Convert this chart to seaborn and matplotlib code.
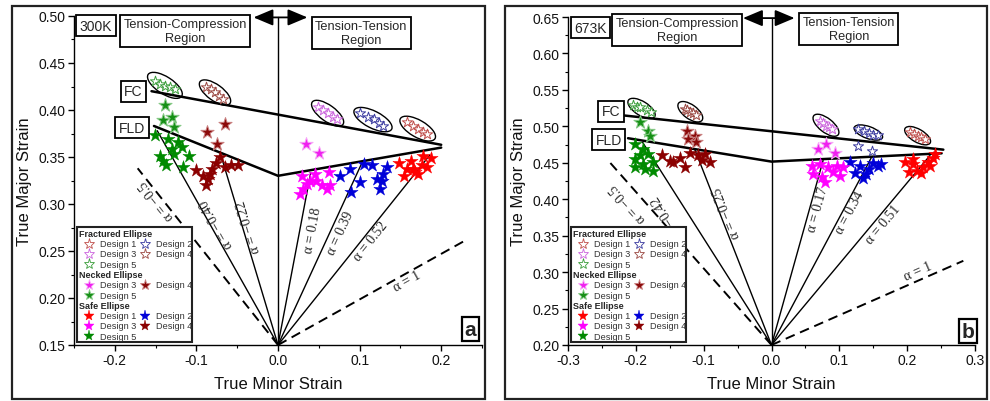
import matplotlib
matplotlib.use("Agg")
import numpy as np
import pandas as pd
import matplotlib.pyplot as plt
import matplotlib.transforms as mtransforms
from matplotlib.patches import Ellipse, Rectangle
from matplotlib.ticker import MultipleLocator, FormatStrFormatter
import seaborn as sns

# ---------------- 300 K : measured limit strains (minor, major) ----------------
frac_a_d1 = [(0.158, 0.387), (0.165, 0.383), (0.172, 0.380), (0.178, 0.377), (0.183, 0.374)]
frac_a_d2 = [(0.101, 0.397), (0.110, 0.393), (0.118, 0.390), (0.124, 0.386), (0.129, 0.383)]
frac_a_d3 = [(0.049, 0.403), (0.055, 0.400), (0.061, 0.397), (0.067, 0.393), (0.072, 0.390)]
frac_a_d4 = [(-0.088, 0.425), (-0.082, 0.422), (-0.077, 0.419), (-0.072, 0.415), (-0.067, 0.412)]
frac_a_d5 = [(-0.151, 0.431), (-0.145, 0.428), (-0.139, 0.426), (-0.132, 0.424), (-0.126, 0.422)]

neck_a_d3 = [(0.034, 0.364), (0.050, 0.354)]
neck_a_d4 = [(-0.0875, 0.377), (-0.065, 0.385), (-0.075, 0.364)]
neck_a_d5 = [(-0.138, 0.405), (-0.130, 0.393), (-0.141, 0.389), (-0.128, 0.382)]

safe_a_d1 = [(0.148, 0.344), (0.154, 0.330), (0.163, 0.346), (0.166, 0.337), (0.172, 0.332),
             (0.176, 0.342), (0.182, 0.339), (0.178, 0.351), (0.187, 0.349), (0.158, 0.337),
             (0.168, 0.334)]
safe_a_d2 = [(0.076, 0.330), (0.088, 0.337), (0.089, 0.313), (0.101, 0.323), (0.105, 0.343),
             (0.115, 0.341), (0.121, 0.327), (0.129, 0.332), (0.133, 0.339), (0.125, 0.316),
             (0.127, 0.325)]
safe_a_d3 = [(0.029, 0.330), (0.039, 0.325), (0.031, 0.316), (0.027, 0.311), (0.047, 0.325),
             (0.054, 0.320), (0.060, 0.316), (0.064, 0.320), (0.062, 0.334), (0.045, 0.332),
             (0.035, 0.321)]
safe_a_d4 = [(-0.100, 0.336), (-0.092, 0.330), (-0.086, 0.327), (-0.088, 0.320), (-0.081, 0.337),
             (-0.076, 0.344), (-0.071, 0.350), (-0.065, 0.339), (-0.057, 0.341), (-0.049, 0.342),
             (-0.083, 0.332)]
safe_a_d5 = [(-0.151, 0.373), (-0.135, 0.369), (-0.122, 0.366), (-0.130, 0.359), (-0.118, 0.361),
             (-0.145, 0.351), (-0.128, 0.353), (-0.109, 0.351), (-0.137, 0.341), (-0.116, 0.339),
             (-0.141, 0.346)]

fc_a_x = [-0.155, 0.200]
fc_a_y = [0.420, 0.363]
fld_a_x = [-0.152, 0.000, 0.200]
fld_a_y = [0.383, 0.330, 0.360]
path_a_x = [-0.148, -0.070, 0.040, 0.103, 0.186]
path_a_y = [0.378, 0.352, 0.333, 0.344, 0.352]
path_a_alpha = ["−0.40", "−0.22", "0.18", "0.39", "0.52"]
bound_a_x = [-0.172, 0.229]
bound_a_y = [0.338, 0.261]
bound_a_alpha = ["−0.5", "1"]

# ---------------- 673 K ----------------
frac_b_d1 = [(0.204, 0.492), (0.210, 0.490), (0.216, 0.487), (0.221, 0.485), (0.226, 0.482)]
frac_b_d2 = [(0.128, 0.4965), (0.136, 0.494), (0.143, 0.491), (0.150, 0.4885), (0.157, 0.4875)]
frac_b_d3 = [(0.071, 0.507), (0.076, 0.504), (0.081, 0.501), (0.085, 0.499), (0.0885, 0.4965)]
frac_b_d4 = [(-0.128, 0.524), (-0.124, 0.522), (-0.1205, 0.520), (-0.115, 0.518), (-0.111, 0.516)]
frac_b_d5 = [(-0.204, 0.5286), (-0.199, 0.527), (-0.194, 0.526), (-0.184, 0.522), (-0.177, 0.519)]
frac_b_d2_loose = [(0.128, 0.4736), (0.1475, 0.4667)]

neck_b_d3 = [(0.069, 0.469), (0.081, 0.476), (0.093, 0.464)]
neck_b_d4 = [(-0.125, 0.494), (-0.113, 0.487), (-0.123, 0.483), (-0.111, 0.478)]
neck_b_d5 = [(-0.194, 0.506), (-0.182, 0.494), (-0.1795, 0.487)]

safe_b_d1 = [(0.197, 0.451), (0.208, 0.448), (0.202, 0.437), (0.214, 0.439), (0.224, 0.444),
             (0.231, 0.451), (0.2385, 0.456), (0.221, 0.436), (0.234, 0.445), (0.209, 0.455),
             (0.241, 0.462)]
safe_b_d2 = [(0.116, 0.451), (0.130, 0.446), (0.123, 0.436), (0.135, 0.429), (0.143, 0.441),
             (0.150, 0.450), (0.157, 0.446), (0.162, 0.448), (0.140, 0.435)]
safe_b_d3 = [(0.059, 0.446), (0.071, 0.448), (0.084, 0.444), (0.096, 0.446), (0.0615, 0.435),
             (0.074, 0.430), (0.091, 0.437), (0.101, 0.432), (0.079, 0.424), (0.106, 0.444)]
safe_b_d4 = [(-0.162, 0.460), (-0.150, 0.453), (-0.145, 0.451), (-0.135, 0.456), (-0.128, 0.444),
             (-0.1205, 0.464), (-0.108, 0.460), (-0.103, 0.454), (-0.098, 0.462), (-0.091, 0.451)]
safe_b_d5 = [(-0.2016, 0.476), (-0.189, 0.469), (-0.194, 0.460), (-0.182, 0.462), (-0.2016, 0.455),
             (-0.189, 0.448), (-0.1746, 0.451), (-0.2016, 0.444), (-0.1746, 0.439), (-0.187, 0.4415)]

fc_b_x = [-0.2164, 0.2533]
fc_b_y = [0.5148, 0.468]
fld_b_x = [-0.2115, 0.000, 0.2508]
fld_b_y = [0.4837, 0.4516, 0.463]
path_b_x = [-0.190, -0.113, 0.076, 0.1475, 0.2336]
path_b_y = [0.478, 0.468, 0.453, 0.4576, 0.460]
path_b_alpha = ["−0.42", "−0.25", "0.17", "0.34", "0.51"]
bound_b_x = [-0.2385, 0.2828]
bound_b_y = [0.4507, 0.3155]
bound_b_alpha = ["−0.5", "1"]

# ---------------- styling ----------------
sns.set_theme(style="ticks")
plt.rcParams["font.family"] = ["Liberation Sans", "DejaVu Sans"]
plt.rcParams["axes.unicode_minus"] = False
SERIF = ["Liberation Serif", "DejaVu Serif"]

SAFE = {1: "#ff0000", 2: "#0000d8", 3: "#ff00ff", 4: "#8b0000", 5: "#008a00"}
NECK_FACE = {3: "#f020f0", 4: "#8b0a0a", 5: "#169016"}
NECK_EDGE = {3: "#f7a6f7", 4: "#c98080", 5: "#86c986"}
FRAC_EDGE = {1: "#c0504d", 2: "#3c3ca0", 3: "#cc66dd", 4: "#9c4a44", 5: "#3c9e3c"}

W, H = 990, 402
fig = plt.figure(figsize=(W / 100, H / 100), dpi=100)
fig.patch.set_facecolor("white")

ax_a = fig.add_axes([74 / W, 1 - 346 / H, 408 / W, 329 / H])
ax_b = fig.add_axes([568 / W, 1 - 346 / H, 407 / W, 328 / H])


def to_frame(groups):
    rows = []
    for state, design, pts in groups:
        for x, y in pts:
            rows.append({"minor": x, "major": y, "state": state, "design": design})
    return pd.DataFrame(rows)


def draw_stars(ax, df):
    for (state, design), sub in df.groupby(["state", "design"], sort=False):
        if state == "Fractured":
            sns.scatterplot(data=sub, x="minor", y="major", ax=ax, marker="*", s=60,
                            color="white", edgecolor=FRAC_EDGE[design], linewidth=0.7,
                            legend=False, zorder=5)
        elif state == "Necked":
            sns.scatterplot(data=sub, x="minor", y="major", ax=ax, marker="*", s=100,
                            color=NECK_FACE[design], edgecolor=NECK_EDGE[design], linewidth=0.7,
                            legend=False, zorder=5)
        else:
            sns.scatterplot(data=sub, x="minor", y="major", ax=ax, marker="*", s=100,
                            color=SAFE[design], edgecolor=SAFE[design], linewidth=0.3,
                            legend=False, zorder=5)


def ring(ax, pts, w_px, h_px, ang):
    cx = float(np.mean([p[0] for p in pts]))
    cy = float(np.mean([p[1] for p in pts]))
    tr = fig.dpi_scale_trans + mtransforms.ScaledTranslation(cx, cy, ax.transData)
    ax.add_patch(Ellipse((0, 0), w_px / 100, h_px / 100, angle=ang, transform=tr,
                         fill=False, ec="black", lw=1.0, zorder=4))


def along_label(ax, x0, y0, x1, y1, lx, ly, text):
    ang = np.degrees(np.arctan2(y1 - y0, x1 - x0))
    rot = ax.transData.transform_angles(np.array([ang]), np.array([[lx, ly]]))[0]
    ax.text(lx, ly, text, rotation=rot, rotation_mode="anchor", ha="center", va="center",
            family=SERIF, fontsize=10, zorder=6)


def boxed(ax, x, y, text, size=10, weight="normal", pad=0.2, lw=1.3):
    ax.text(x, y, text, ha="center", va="center", fontsize=size, fontweight=weight,
            linespacing=1.2, zorder=7,
            bbox=dict(boxstyle=f"square,pad={pad}", fc="white", ec="black", lw=lw))


KEY_ROWS = [
    ("Fractured Ellipse", []),
    (None, [("Fractured", 1), ("Fractured", 2)]),
    (None, [("Fractured", 3), ("Fractured", 4)]),
    (None, [("Fractured", 5)]),
    ("Necked Ellipse", []),
    (None, [("Necked", 3), ("Necked", 4)]),
    (None, [("Necked", 5)]),
    ("Safe Ellipse", []),
    (None, [("Safe", 1), ("Safe", 2)]),
    (None, [("Safe", 3), ("Safe", 4)]),
    (None, [("Safe", 5)]),
]


def key(ax):
    tr = fig.dpi_scale_trans + mtransforms.ScaledTranslation(0, 0, ax.transAxes)
    ax.add_patch(Rectangle((0.03, 0.03), 1.15, 1.15, transform=tr, fc="white", ec="#222222",
                           lw=1.5, zorder=8, clip_on=False))
    for i, (title, items) in enumerate(KEY_ROWS):
        yy = (111.7 - 10.3 * i) / 100
        if title:
            ax.text(0.053, yy, title, transform=tr, fontsize=6.5, fontweight="bold",
                    ha="left", va="center", zorder=9)
        for j, (state, design) in enumerate(items):
            mx = (15 if j == 0 else 71) / 100
            tx = (25.5 if j == 0 else 81.5) / 100
            if state == "Fractured":
                fc, ec, lw = "white", FRAC_EDGE[design], 0.6
            elif state == "Necked":
                fc, ec, lw = NECK_FACE[design], NECK_EDGE[design], 0.6
            else:
                fc, ec, lw = SAFE[design], SAFE[design], 0.3
            ax.plot([mx], [yy], marker="*", ms=8, mfc=fc, mec=ec, mew=lw, ls="none",
                    transform=tr, zorder=9, clip_on=False)
            ax.text(tx, yy, f"Design {design}", transform=tr, fontsize=6.6, color="#333333",
                    ha="left", va="center", zorder=9)


def panel(ax, groups, xlim, ylim, xstep, ystep, fc_x, fc_y, fld_x, fld_y,
          path_x, path_y, path_alpha, path_lbl, bound_x, bound_y, bound_alpha, bound_lbl,
          rings, arrow_x, arrow_y, boxes, letter):
    ax.set_xlim(*xlim)
    ax.set_ylim(*ylim)
    x0, y0 = 0.0, ylim[0]

    df = to_frame(groups)
    draw_stars(ax, df)
    ax.set_xlim(*xlim)
    ax.set_ylim(*ylim)

    # forming limit curves
    ax.plot(fc_x, fc_y, color="black", lw=1.8, zorder=3)
    ax.plot(fld_x, fld_y, color="black", lw=1.8, zorder=3)

    # strain paths from the origin
    for px, py, a, (lx, ly) in zip(path_x, path_y, path_alpha, path_lbl):
        ax.plot([x0, px], [y0, py], color="black", lw=1.0, zorder=3)
        along_label(ax, x0, y0, px, py, lx, ly, f"α = {a}")
    for px, py, a, (lx, ly) in zip(bound_x, bound_y, bound_alpha, bound_lbl):
        ax.plot([x0, px], [y0, py], color="black", lw=1.4, ls=(0, (5, 3)), zorder=3)
        along_label(ax, x0, y0, px, py, lx, ly, f"α = {a}")

    # tension-compression / tension-tension divider
    ax.plot([0, 0], [y0, arrow_y], color="black", lw=1.0, zorder=3, clip_on=False)
    ax.annotate("", xy=(arrow_x[1], arrow_y), xytext=(arrow_x[0], arrow_y),
                arrowprops=dict(arrowstyle="<|-|>,head_length=1.0,head_width=0.42",
                                color="black", lw=1.3, shrinkA=0, shrinkB=0),
                zorder=6, annotation_clip=False)

    for pts, w, h, ang in rings:
        ring(ax, pts, w, h, ang)

    for (bx, by, text, size) in boxes:
        boxed(ax, bx, by, text, size=size, pad=0.25)
    boxed(ax, letter[0], letter[1], letter[2], size=15, weight="bold", pad=0.12, lw=1.6)

    key(ax)

    ax.xaxis.set_major_locator(MultipleLocator(xstep))
    ax.xaxis.set_minor_locator(MultipleLocator(xstep / 2))
    ax.yaxis.set_major_locator(MultipleLocator(ystep))
    ax.yaxis.set_minor_locator(MultipleLocator(ystep / 2))
    ax.xaxis.set_major_formatter(FormatStrFormatter("%.1f"))
    ax.yaxis.set_major_formatter(FormatStrFormatter("%.2f"))
    ax.tick_params(which="major", direction="out", length=4, width=1.0, labelsize=10,
                   pad=2, color="black", labelcolor="#111111")
    ax.tick_params(which="minor", direction="out", length=2.5, width=0.8, color="black")
    sns.despine(ax=ax)
    for s in ("left", "bottom"):
        ax.spines[s].set_color("black")
        ax.spines[s].set_linewidth(1.0)
    ax.set_xlabel("True Minor Strain", fontsize=12, labelpad=6, color="#111111")
    ax.set_ylabel("True Major Strain", fontsize=12, labelpad=5, color="#111111")
    ax.set_facecolor("white")


groups_a = [
    ("Fractured", 1, frac_a_d1), ("Fractured", 2, frac_a_d2), ("Fractured", 3, frac_a_d3),
    ("Fractured", 4, frac_a_d4), ("Fractured", 5, frac_a_d5),
    ("Necked", 3, neck_a_d3), ("Necked", 4, neck_a_d4), ("Necked", 5, neck_a_d5),
    ("Safe", 1, safe_a_d1), ("Safe", 2, safe_a_d2), ("Safe", 3, safe_a_d3),
    ("Safe", 4, safe_a_d4), ("Safe", 5, safe_a_d5),
]
groups_b = [
    ("Fractured", 1, frac_b_d1), ("Fractured", 2, frac_b_d2 + frac_b_d2_loose),
    ("Fractured", 3, frac_b_d3), ("Fractured", 4, frac_b_d4), ("Fractured", 5, frac_b_d5),
    ("Necked", 3, neck_b_d3), ("Necked", 4, neck_b_d4), ("Necked", 5, neck_b_d5),
    ("Safe", 1, safe_b_d1), ("Safe", 2, safe_b_d2), ("Safe", 3, safe_b_d3),
    ("Safe", 4, safe_b_d4), ("Safe", 5, safe_b_d5),
]

panel(ax_a, groups_a, (-0.25, 0.25), (0.15, 0.50), 0.1, 0.05,
      fc_a_x, fc_a_y, fld_a_x, fld_a_y,
      path_a_x, path_a_y, path_a_alpha,
      [(-0.075, 0.280), (-0.036, 0.277), (0.043, 0.273), (0.076, 0.270), (0.113, 0.261)],
      bound_a_x, bound_a_y, bound_a_alpha, [(-0.149, 0.305), (0.158, 0.218)],
      [(frac_a_d5, 40, 17, -33), (frac_a_d4, 37, 16, -36), (frac_a_d3, 38, 16, -36),
       (frac_a_d2, 42, 17, -27), (frac_a_d1, 40, 17, -30)],
      (-0.030, 0.036), 0.4985,
      [(-0.223, 0.4897, "300K", 10), (-0.114, 0.484, "Tension-Compression\nRegion", 9.2),
       (0.102, 0.482, "Tension-Tension\nRegion", 9.2),
       (-0.177, 0.420, "FC", 10), (-0.179, 0.381, "FLD", 10)],
      (0.2356, 0.167, "a"))

panel(ax_b, groups_b, (-0.3, 0.3), (0.20, 0.65), 0.1, 0.05,
      fc_b_x, fc_b_y, fld_b_x, fld_b_y,
      path_b_x, path_b_y, path_b_alpha,
      [(-0.150, 0.3728), (-0.0664, 0.382), (0.0689, 0.3865), (0.1156, 0.382), (0.1648, 0.366)],
      bound_b_x, bound_b_y, bound_b_alpha, [(-0.2115, 0.3957), (0.2164, 0.3017)],
      [(frac_b_d5, 31, 14, -32), (frac_b_d4, 29, 14, -36), (frac_b_d3, 31, 14, -38),
       (frac_b_d2, 30, 12, -20), (frac_b_d1, 29, 13, -30)],
      (-0.042, 0.034), 0.6485,
      [(-0.267, 0.6354, "673K", 10), (-0.139, 0.6317, "Tension-Compression\nRegion", 9.2),
       (0.114, 0.634, "Tension-Tension\nRegion", 9.2),
       (-0.2366, 0.5208, "FC", 10), (-0.240, 0.4814, "FLD", 10)],
      (0.2892, 0.2188, "b"))

# outer frames around each panel
for x0p, x1p in [(12, 485), (505, 987)]:
    fig.patches.append(Rectangle((x0p / W, 1 - 400 / H), (x1p - x0p) / W, (400 - 7) / H,
                                 transform=fig.transFigure, fill=False, ec="#222222", lw=1.6))

fig.savefig("out.png", dpi=100, facecolor="white")
